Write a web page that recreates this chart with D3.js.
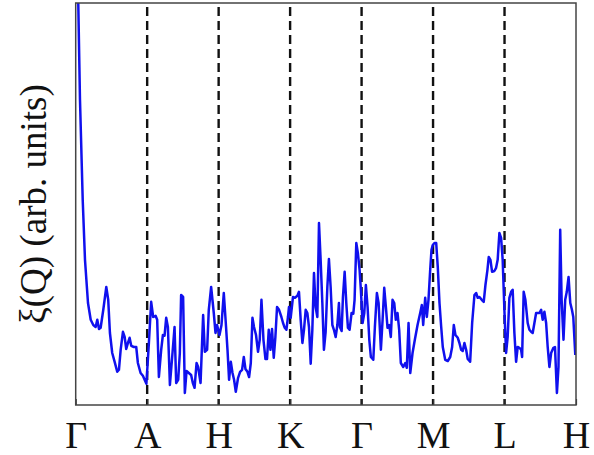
<!DOCTYPE html>
<html>
<head>
  <title>xi(Q) along k-path</title>
  <script src="https://d3js.org/d3.v7.min.js"></script>
  <style>
    body { margin: 0; background: #fff; }
  </style>
</head>
<body>
<script type="text/javascript">

  var w = 594;
  var h = 455;

  // high-symmetry points along the path (0..700, 100 per segment)
  var kTicks = [0, 100, 200, 300, 400, 500, 600, 700];
  var kLabels = ["\u0393", "A", "H", "K", "\u0393", "M", "L", "H"];

  // path position of each sample
  var kPos = [0.5, 3.6, 6.0, 9.8, 13.0, 17.2, 21.0, 24.6, 27.9, 30.2, 32.6, 34.9, 38.6, 42.8, 45.5, 47.9,
    51.1, 54.5, 58.1, 60.5, 62.9, 66.1, 68.5, 70.7, 73.1, 75.4, 77.7, 81.5, 84.7, 87.0, 90.8, 94.0,
    98.9, 102.4, 105.6, 108.4, 111.8, 114.0, 116.4, 119.6, 122.0, 124.3, 126.6, 129.0, 131.8, 135.0,
    138.3, 140.6, 143.4, 145.7, 147.5, 150.3, 152.7, 155.1, 158.3, 161.5, 163.9, 166.3, 169.1, 171.3,
    174.7, 178.3, 180.7, 183.9, 186.2, 189.5, 193.2, 195.6, 197.8, 201.2, 204.0, 207.2, 210.0, 212.4,
    214.6, 217.0, 219.4, 221.6, 224.0, 227.2, 230.0, 232.8, 235.2, 237.5, 240.3, 242.6, 245.0, 247.3,
    249.5, 252.3, 255.1, 257.5, 259.9, 262.7, 265.5, 267.7, 270.1, 272.5, 274.7, 277.1, 279.4, 281.7,
    284.5, 287.8, 290.1, 292.5, 294.8, 297.0, 298.4, 300.8, 304.0, 306.8, 310.2, 312.4, 314.8, 317.2,
    319.4, 321.8, 324.1, 326.4, 328.8, 331.1, 333.4, 335.7, 338.1, 340.4, 342.7, 345.1, 347.3, 349.7,
    352.1, 354.3, 356.7, 359.1, 361.3, 363.7, 366.1, 368.3, 369.7, 372.1, 373.9, 376.3, 378.6, 380.9,
    383.2, 386.0, 388.4, 390.2, 392.6, 394.8, 397.2, 399.0, 401.4, 403.8, 406.0, 408.4, 410.8, 413.0,
    416.4, 418.6, 421.4, 423.8, 427.0, 429.4, 431.7, 434.0, 436.3, 438.7, 440.9, 443.3, 445.7, 447.9,
    450.3, 452.6, 454.9, 458.3, 461.1, 463.3, 465.7, 468.1, 471.3, 474.5, 478.3, 482.0, 484.3, 486.2,
    489.0, 491.3, 493.6, 496.0, 497.8, 499.6, 502.0, 504.4, 506.6, 509.0, 511.4, 513.6, 517.0, 520.6,
    524.0, 526.7, 529.0, 531.3, 534.6, 536.9, 539.3, 541.5, 543.9, 546.3, 548.5, 551.9, 554.7, 557.9,
    560.3, 562.5, 564.9, 568.1, 570.9, 573.3, 576.1, 577.9, 580.3, 582.6, 585.8, 588.2, 590.4, 592.8,
    595.2, 597.4, 599.8, 602.2, 604.4, 606.8, 609.2, 611.4, 613.8, 616.2, 618.4, 620.8, 623.2, 624.6,
    626.8, 629.2, 632.4, 634.8, 637.2, 639.4, 641.8, 644.2, 646.4, 648.8, 651.2, 653.4, 655.8, 658.2,
    660.4, 662.8, 665.2, 668.4, 670.6, 673.3, 675.5, 677.9, 679.9, 682.5, 684.9, 687.1, 689.6, 692.0,
    694.3, 696.2, 699.0];

  // xi(Q), arbitrary units (axis runs 0..100, first points go off the top)
  var xiVals = [160, 100.5, 76.3, 51.3, 36.3, 25.5, 21.3, 20.0, 19.5, 21.3, 19.0, 19.3, 23.8, 29.5, 26.3, 18.0,
    13.0, 10.8, 8.3, 8.8, 13.8, 18.3, 17.0, 14.0, 15.5, 16.8, 14.8, 14.5, 14.5, 10.5, 8.0, 7.3,
    5.3, 15.5, 25.8, 22.0, 22.3, 21.3, 7.0, 13.8, 17.5, 17.3, 21.8, 19.5, 5.0, 12.0,
    19.5, 5.5, 6.3, 13.0, 27.5, 27.0, 3.0, 8.5, 8.0, 7.5, 5.5, 4.3, 10.5, 9.5,
    5.5, 22.5, 13.3, 13.8, 23.8, 29.5, 23.0, 18.0, 20.0, 17.5, 20.0, 28.0, 20.5, 13.8,
    6.3, 10.8, 8.0, 6.3, 3.3, 6.8, 8.3, 8.8, 12.0, 9.0, 8.3, 7.0, 10.5, 21.8,
    19.5, 17.5, 13.3, 16.3, 26.3, 16.3, 11.5, 11.5, 18.8, 13.8, 19.0, 11.8, 17.0, 24.5,
    23.8, 22.0, 20.5, 19.3, 18.8, 22.0, 24.5, 21.8, 27.0, 26.8, 27.3, 28.3, 21.3, 15.5,
    18.8, 23.8, 23.0, 19.5, 10.3, 18.8, 33.0, 24.5, 22.0, 45.5, 36.3, 25.5, 13.8, 18.3,
    29.5, 36.5, 29.5, 20.0, 18.8, 17.0, 20.0, 25.5, 19.5, 18.5, 27.0, 33.3, 25.5, 19.3,
    18.8, 23.0, 22.8, 26.3, 40.5, 38.0, 33.8, 28.8, 20.5, 23.0, 30.0, 24.5, 16.3, 12.0,
    11.3, 19.5, 28.0, 25.5, 13.8, 21.3, 29.3, 24.5, 19.3, 20.0, 17.0, 26.3, 25.5, 21.3,
    23.0, 18.8, 10.5, 9.5, 10.5, 9.3, 20.5, 8.0, 13.0, 16.3, 20.0, 23.0, 25.0, 20.0,
    26.8, 22.0, 26.3, 33.8, 38.8, 40.0, 40.5, 40.5, 34.5, 25.5, 19.5, 14.5, 11.3, 11.0,
    12.0, 14.5, 20.0, 17.5, 16.8, 15.5, 13.8, 13.5, 15.5, 13.8, 11.5, 10.8, 20.5, 27.5,
    28.0, 26.8, 27.0, 26.3, 25.8, 30.0, 33.8, 37.0, 36.3, 33.3, 33.5, 34.3, 36.3, 43.0,
    41.8, 36.3, 23.8, 13.0, 17.0, 26.8, 28.3, 28.8, 18.0, 10.8, 14.5, 14.3, 13.8, 12.0,
    28.3, 26.3, 20.5, 18.8, 18.3, 18.0, 20.5, 23.0, 23.0, 23.0, 23.8, 21.3, 23.3, 20.5,
    14.5, 9.5, 13.0, 14.3, 14.5, 3.0, 9.5, 43.8, 26.3, 16.3, 26.3, 28.3, 32.0, 25.5,
    23.8, 22.0, 12.5];

  var margin = {left: 75.7, right: 18, top: 3, bottom: 50};
  var serif = "'Liberation Serif', 'Times New Roman', serif";

  var svg = d3.select("body").append("svg")
          .attr("width", w)
          .attr("height", h);

  var xScale = d3.scaleLinear()
          .domain([0, 700])
          .range([margin.left, w - margin.right]);

  var yScale = d3.scaleLinear()
          .domain([0, 100.5])
          .range([h - margin.bottom, margin.top]);

  svg.append("clipPath").attr("id", "plotclip")
      .append("rect")
      .attr("x", xScale(0))
      .attr("y", yScale(100.5))
      .attr("width", xScale(700) - xScale(0))
      .attr("height", yScale(0) - yScale(100.5));

  //dashed lines at the inner symmetry points
  svg.selectAll(".kline")
      .data(kTicks.slice(1, -1))
      .enter()
      .append("line")
      .attr("class", "kline")
      .attr("x1", function(d){ return xScale(d); })
      .attr("x2", function(d){ return xScale(d); })
      .attr("y1", yScale(100.5) + 4)
      .attr("y2", yScale(0))
      .attr("stroke", "#111")
      .attr("stroke-width", 2.4)
      .attr("stroke-dasharray", "9,5");

  var pts = kPos.map(function(k, i){ return [k, xiVals[i]]; });

  var line = d3.line()
      .x(function(d){ return xScale(d[0]); })
      .y(function(d){ return yScale(d[1]); });

  svg.append("path")
      .datum(pts)
      .attr("clip-path", "url(#plotclip)")
      .attr("d", line)
      .attr("fill", "none")
      .attr("stroke", "#1010ee")
      .attr("stroke-width", 2.5)
      .attr("stroke-linejoin", "round");

  //bottom axis: inward ticks, greek labels
  var xAxis = d3.axisBottom(xScale)
      .tickValues(kTicks)
      .tickSizeInner(-6)
      .tickSizeOuter(0)
      .tickPadding(16)
      .tickFormat(function(d, i){ return kLabels[i]; });

  var gx = svg.append("g")
      .attr("transform", "translate(0," + yScale(0) + ")")
      .call(xAxis);
  gx.select(".domain").remove();
  gx.selectAll("line").attr("stroke", "#333").attr("stroke-width", 1.2);
  gx.selectAll("text")
      .attr("fill", "#111")
      .style("font-family", serif)
      .style("font-size", "38px");

  //frame
  svg.append("rect")
      .attr("x", xScale(0))
      .attr("y", yScale(100.5))
      .attr("width", xScale(700) - xScale(0))
      .attr("height", yScale(0) - yScale(100.5))
      .attr("fill", "none")
      .attr("stroke", "#444")
      .attr("stroke-width", 1.5);

  svg.append("text")
      .attr("transform", "translate(46," + 204 + ")rotate(-90)")
      .attr("text-anchor", "middle")
      .attr("fill", "#111")
      .style("font-family", serif)
      .style("font-size", "37px")
      .text("\u03be(Q) (arb. units)");

</script>
</body>
</html>
